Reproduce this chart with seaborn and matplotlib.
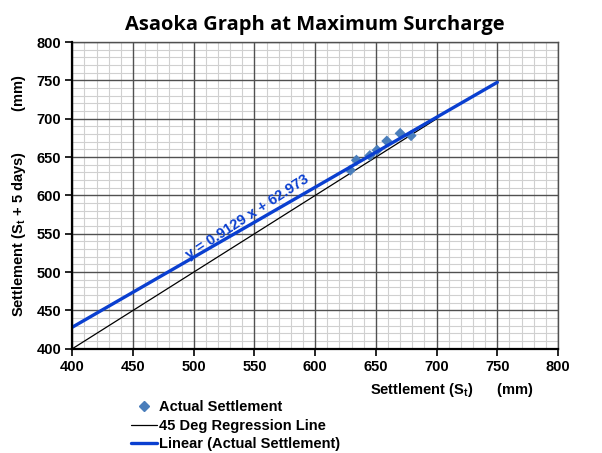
import numpy as np
import pandas as pd
import matplotlib.pyplot as plt
import seaborn as sns
from matplotlib.ticker import MultipleLocator
from matplotlib.lines import Line2D

# Asaoka points: settlement S_t vs S_t+5days (mm)
st = [629, 634, 645, 651, 659, 670, 679]
st5 = [633, 646, 652, 659, 671, 681, 678]

# trendline reported on the chart
slope = 0.9129
intercept = 62.973
fit_x = [400, 750]
line45_x = [400, 700]

sns.set_theme(style="white")
plt.rcParams['font.family'] = ['Liberation Sans', 'DejaVu Sans']
plt.rcParams['text.color'] = 'black'
plt.rcParams['axes.labelcolor'] = 'black'
plt.rcParams['xtick.color'] = 'black'
plt.rcParams['ytick.color'] = 'black'

fig, ax = plt.subplots(figsize=(6.02, 4.53), dpi=100)
fig.subplots_adjust(left=0.12, right=0.927, top=0.907, bottom=0.23)

pts = pd.DataFrame({"x": st, "y": st5})
fit = pd.DataFrame({"x": fit_x, "y": [slope * v + intercept for v in fit_x]})
deg = pd.DataFrame({"x": line45_x, "y": line45_x})

sns.lineplot(data=deg, x="x", y="y", ax=ax, color="black", lw=0.9, zorder=3)
sns.scatterplot(data=pts, x="x", y="y", ax=ax, marker="D", s=32,
                color="#4a7ebb", edgecolor="none", zorder=4)
sns.lineplot(data=fit, x="x", y="y", ax=ax, color="#0a3fd0", lw=2.4, zorder=5)

ax.set_xlim(400, 800)
ax.set_ylim(400, 800)
ax.xaxis.set_major_locator(MultipleLocator(50))
ax.yaxis.set_major_locator(MultipleLocator(50))
ax.xaxis.set_minor_locator(MultipleLocator(10))
ax.yaxis.set_minor_locator(MultipleLocator(10))
# light minor grid, darker major lines drawn on top of it
ax.grid(which="minor", color="#d0d0d0", lw=0.8)
ax.grid(which="major", visible=False)
for v in ax.get_xticks():
    ax.axvline(v, color="#505050", lw=1.0, zorder=1.5)
for v in ax.get_yticks():
    ax.axhline(v, color="#505050", lw=1.0, zorder=1.5)
ax.set_axisbelow(True)
ax.set_xlim(400, 800)
ax.set_ylim(400, 800)

for side in ["top", "right"]:
    ax.spines[side].set_color("#505050")
    ax.spines[side].set_linewidth(1.0)
for side in ["left", "bottom"]:
    ax.spines[side].set_color("black")
    ax.spines[side].set_linewidth(1.6)
    ax.spines[side].set_zorder(6)

ax.tick_params(which="major", direction="out", length=5, width=1.2,
               color="black", left=True, bottom=True, labelsize=10.5, pad=3)
for lab in ax.get_xticklabels() + ax.get_yticklabels():
    lab.set_fontweight("bold")

ax.set_xlabel(r"Settlement (S$_\mathregular{t}$)      (mm)", fontsize=10.5,
              fontweight="bold", ha="right")
ax.xaxis.set_label_coords(0.949, -0.105)
ax.set_ylabel(r"Settlement (S$_\mathregular{t}$ + 5 days)          (mm)",
              fontsize=10.5, fontweight="bold", labelpad=6)

ax.set_title("Asaoka Graph at Maximum Surcharge", fontsize=14.5,
             fontweight="bold", family=["Open Sans", "DejaVu Sans"], pad=9)

ax.text(544, 572, "y = 0.9129 x + 62.973", color="#0a3fd0", fontsize=10.5,
        fontweight="bold", rotation=33, ha="center", va="center", zorder=6)

handles = [
    Line2D([], [], marker="D", color="#4a7ebb", ls="none", markersize=5),
    Line2D([], [], color="black", lw=0.9),
    Line2D([], [], color="#0a3fd0", lw=2.4),
]
labels = ["Actual Settlement", "45 Deg Regression Line", "Linear (Actual Settlement)"]
fig.legend(handles, labels, loc="lower left", bbox_to_anchor=(0.195, -0.025),
           frameon=False, prop={"weight": "bold", "size": 10.5},
           handlelength=1.8, handletextpad=0.15, labelspacing=0.3)

fig.savefig("out.png", dpi=100)
